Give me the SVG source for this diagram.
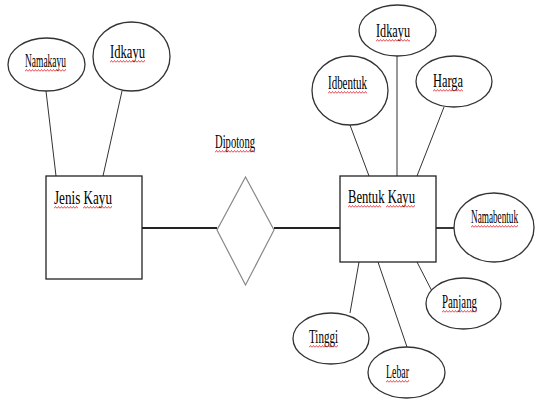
<svg xmlns="http://www.w3.org/2000/svg" width="535" height="400" viewBox="0 0 535 400">
<defs>
<pattern id="sq" patternUnits="userSpaceOnUse" width="3" height="3">
<path d="M0,2.5 L1.5,0.5 L3,2.5" fill="none" stroke="#e0202a" stroke-width="0.8"/>
</pattern>
<style>
.e{fill:#fff;stroke:#333;stroke-width:1.3}
.r{fill:#fff;stroke:#222;stroke-width:1.3}
.d{fill:#fff;stroke:#888;stroke-width:1.2}
.l{stroke:#333;stroke-width:1;fill:none}
.lt{stroke:#222;stroke-width:1.8;fill:none}
text{font-family:"Liberation Serif","Times New Roman",serif;font-size:19px;fill:#000}
.s{fill:url(#sq)}
</style>
</defs>
<rect width="535" height="400" fill="#fff"/>
<g id="connectors">
<line class="l" x1="46" y1="91" x2="56" y2="176"/>
<line class="l" x1="122" y1="91" x2="103" y2="176"/>
<line class="lt" x1="142" y1="228" x2="217" y2="228"/>
<line class="lt" x1="274" y1="228" x2="340" y2="228"/>
<line class="l" x1="350" y1="125" x2="369" y2="176"/>
<line class="l" x1="397" y1="56" x2="397" y2="176"/>
<line class="l" x1="444" y1="107" x2="417" y2="176"/>
<line class="lt" x1="436" y1="228" x2="454" y2="228"/>
<line class="l" x1="417" y1="262" x2="435" y2="297"/>
<line class="l" x1="359" y1="262" x2="350" y2="313"/>
<line class="l" x1="378" y1="262" x2="407" y2="347"/>
</g>
<g id="jenis-kayu">
<rect class="r" x="46" y="176" width="96" height="103"/>
<text x="54" y="204" textLength="58" lengthAdjust="spacingAndGlyphs">Jenis Kayu</text>
<rect class="s" width="24" height="3" transform="translate(54,206)"/>
<rect class="s" width="29" height="3" transform="translate(83,206)"/>
</g>
<g id="namakayu">
<ellipse class="e" cx="46.5" cy="64.5" rx="38.5" ry="26.5"/>
<text x="25" y="67" textLength="41" lengthAdjust="spacingAndGlyphs">Namakayu</text>
<rect class="s" width="41" height="3" transform="translate(25,69)"/>
</g>
<g id="idkayu-jenis">
<ellipse class="e" cx="131.5" cy="56.5" rx="38.5" ry="34.5"/>
<text x="110" y="58" textLength="35" lengthAdjust="spacingAndGlyphs">Idkayu</text>
<rect class="s" width="35" height="3" transform="translate(110,60)"/>
</g>
<g id="dipotong">
<polygon class="d" points="245.5,177 274,230 245.5,285 217,230"/>
<text x="215" y="148" textLength="40" lengthAdjust="spacingAndGlyphs">Dipotong</text>
<rect class="s" width="40" height="3" transform="translate(215,150)"/>
</g>
<g id="bentuk-kayu">
<rect class="r" x="340" y="176" width="96" height="86"/>
<text x="348" y="203" textLength="67" lengthAdjust="spacingAndGlyphs">Bentuk Kayu</text>
<rect class="s" width="33" height="3" transform="translate(348,205)"/>
<rect class="s" width="29" height="3" transform="translate(386,205)"/>
</g>
<g id="idkayu-bentuk">
<ellipse class="e" cx="397.5" cy="30.5" rx="38.5" ry="25.5"/>
<text x="376" y="37" textLength="34" lengthAdjust="spacingAndGlyphs">Idkayu</text>
<rect class="s" width="34" height="3" transform="translate(376,39)"/>
</g>
<g id="idbentuk">
<ellipse class="e" cx="350" cy="90.5" rx="38" ry="34.5"/>
<text x="328" y="89" textLength="39" lengthAdjust="spacingAndGlyphs">Idbentuk</text>
<rect class="s" width="39" height="3" transform="translate(328,91)"/>
</g>
<g id="harga">
<ellipse class="e" cx="454" cy="81.5" rx="38" ry="25.5"/>
<text x="433" y="87" textLength="30" lengthAdjust="spacingAndGlyphs">Harga</text>
<rect class="s" width="30" height="3" transform="translate(433,89)"/>
</g>
<g id="namabentuk">
<ellipse class="e" cx="494" cy="227.5" rx="40" ry="34.5"/>
<text transform="translate(471,223) scale(0.485,1)" x="0" y="0" textLength="97" lengthAdjust="spacingAndGlyphs">Namabentuk</text>
<rect class="s" width="47" height="3" transform="translate(471,225)"/>
</g>
<g id="panjang">
<ellipse class="e" cx="463.5" cy="303.5" rx="37.5" ry="25.5"/>
<text x="442" y="308" textLength="35" lengthAdjust="spacingAndGlyphs">Panjang</text>
<rect class="s" width="35" height="3" transform="translate(442,310)"/>
</g>
<g id="tinggi">
<ellipse class="e" cx="331" cy="338.5" rx="38" ry="25.5"/>
<text x="309" y="343" textLength="29" lengthAdjust="spacingAndGlyphs">Tinggi</text>
<rect class="s" width="29" height="3" transform="translate(309,345)"/>
</g>
<g id="lebar">
<ellipse class="e" cx="406.5" cy="372.5" rx="38.5" ry="25.5"/>
<text x="386" y="378" textLength="23" lengthAdjust="spacingAndGlyphs">Lebar</text>
<rect class="s" width="23" height="3" transform="translate(386,380)"/>
</g>
</svg>
